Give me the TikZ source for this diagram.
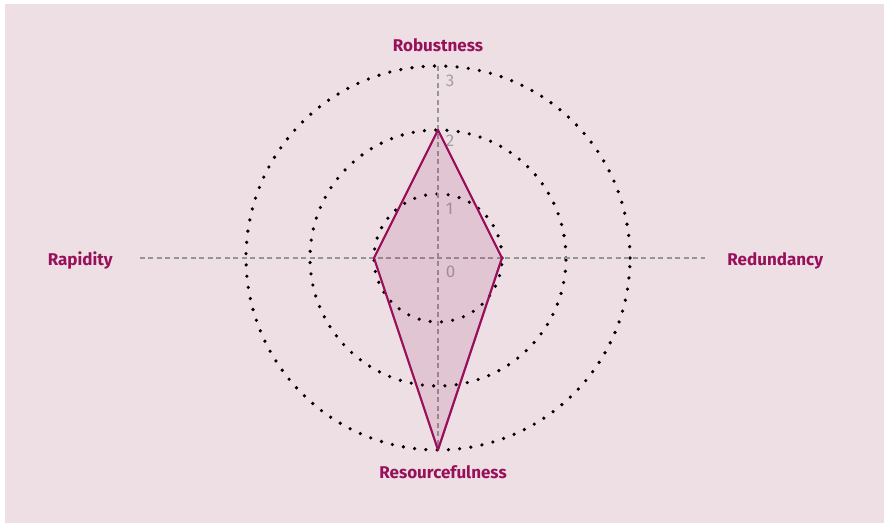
\documentclass[tikz,border=0pt]{standalone}
\usepackage{fontspec}
\setmainfont{Fira Sans}
\definecolor{bgpink}{RGB}{237,223,227}
\definecolor{berry}{RGB}{152,16,90}
\definecolor{tickgray}{RGB}{160,160,160}
\definecolor{axisgray}{RGB}{150,150,150}
\tikzset{
  axislabel/.style={font=\bfseries\fontsize{17}{18}\selectfont, text=berry},
  ticklabel/.style={font=\fontsize{17}{18}\selectfont, text=tickgray, anchor=north west, inner sep=0pt},
  ring/.style={line width=3.6pt, line cap=round, dash pattern=on 0pt off 11.3pt},
  axisline/.style={axisgray, line width=1.5pt, dash pattern=on 5pt off 3.5pt}
}
\begin{document}
\begin{tikzpicture}[x=64pt, y=64pt]
      \useasboundingbox (-6.844,-4.1875) rectangle (7.016,4.031);
      \fill[bgpink] (-6.766,-4.141) rectangle (6.969,3.969);
      % rings
      \foreach \r in {1,2,3}
        \draw[ring] (0,0) circle (\r);
      % axes
      \coordinate (W) at (-4.66,0);
      \coordinate (E) at (4.17,0);
      \coordinate (N) at (0,3);
      \coordinate (S) at (0,-3);
      \draw[axisline] (W) -- (E);
      \draw[axisline] (N) -- (S);
      % scale
      \node[ticklabel] at (0.12,2.86) (T3) {3};
      \node[ticklabel] at (0.12,1.92) (T2) {2};
      \node[ticklabel] at (0.12,0.86) (T1) {1};
      \node[ticklabel] at (0.12,-0.12) (T0) {0};
      % values
      \coordinate (Rob) at (0,2);
      \coordinate (Red) at (1,0);
      \coordinate (Res) at (0,-3);
      \coordinate (Rap) at (-1,0);
      \draw[berry, line width=2.2pt, line join=round, fill=berry, fill opacity=0.12, draw opacity=1]
        (Rob) -- (Red) -- (Res) -- (Rap) -- cycle;
      % labels
      \node[axislabel] at (0,3.32) (robustness) {Robustness};
      \node[axislabel] at (0.08,-3.35) (resourcefulness) {Resourcefulness};
      \node[axislabel] at (-5.59,-0.04) (rapidity) {Rapidity};
      \node[axislabel] at (5.27,-0.04) (redundancy) {Redundancy};
    \end{tikzpicture}
\end{document}
